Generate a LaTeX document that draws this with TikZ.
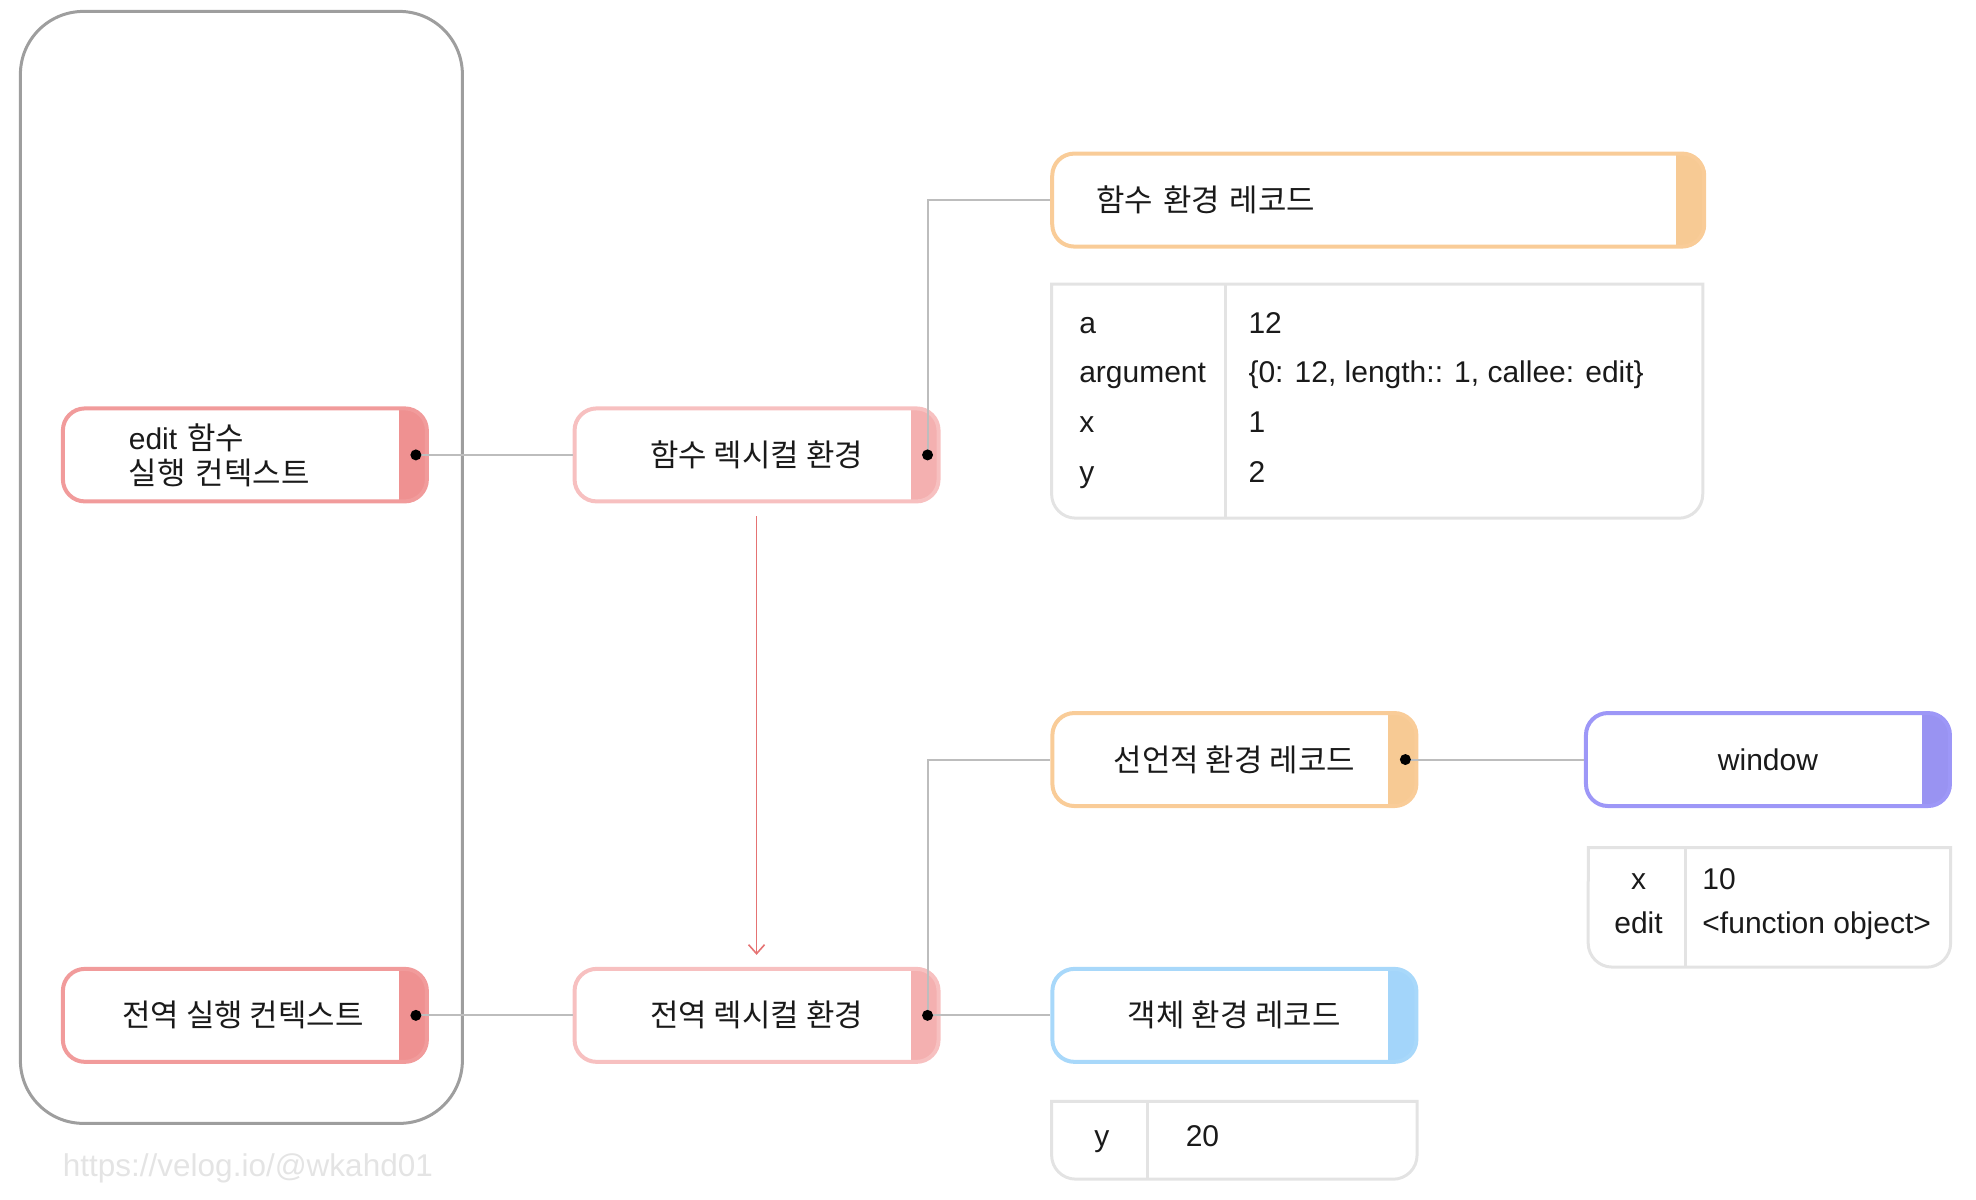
\documentclass[tikz,border=0pt]{standalone}
\usepackage{fontspec}
\setmainfont{Liberation Sans}
\newfontfamily\kr{Noto Sans CJK KR}[Scale=1.03]
\usetikzlibrary{arrows.meta}
\definecolor{txt}{HTML}{1A1A1A}
\definecolor{ctxb}{HTML}{F19B9B}
\definecolor{ctxf}{HTML}{EF9191}
\definecolor{lexb}{HTML}{F7C0C0}
\definecolor{lexf}{HTML}{F4B0B0}
\definecolor{orb}{HTML}{F9CC98}
\definecolor{orf}{HTML}{F7CA94}
\definecolor{pub}{HTML}{9D97F7}
\definecolor{puf}{HTML}{9993F2}
\definecolor{blb}{HTML}{A8D8FA}
\definecolor{blf}{HTML}{A3D5FA}
\definecolor{tblc}{HTML}{E3E3E3}
\definecolor{bigc}{HTML}{9E9E9E}
\definecolor{conc}{HTML}{BDBDBD}
\definecolor{arrc}{HTML}{E57373}
\definecolor{wmc}{HTML}{E4E4E4}
\begin{document}
\begin{tikzpicture}[x=0.9955pt,y=0.9955pt,
  font=\fontsize{30}{35}\selectfont,
  rec/.style 2 args={draw=#1, line width=4pt, rounded corners=22pt, fill=white,
    minimum width=364pt, minimum height=93pt, inner sep=0pt, text=txt,
    path picture={\fill[#2, sharp corners] ([xshift=-28pt]path picture bounding box.north east)
      rectangle (path picture bounding box.south east);}},
  tbl/.style={draw=tblc, line width=3pt},
  con/.style={draw=conc, line width=2pt},
  tx/.style={inner sep=0pt, text=txt, text height=21pt, text depth=5pt},
  dotc/.style={fill=black}
]
\useasboundingbox (0,-5.4) rectangle (1985,1200);

% outer frame
\node[draw=bigc, line width=3pt, rounded corners=63pt, minimum width=442pt,
      minimum height=1112pt, inner sep=0pt] (stack) at (242.5,630) {};

% boxes
\node[rec={ctxb}{ctxf}, align=left, text width=232pt, inner xsep=66pt] (ctx1) at (246,743)
  {edit {\kr 함수}\\{\kr 실행 컨텍스트}};
\node[rec={ctxb}{ctxf}, xshift=0pt] (ctx2) at (246,180) {\kr 전역 실행 컨텍스트\hspace*{4pt}};
\node[rec={lexb}{lexf}] (lex1) at (760,743) {\kr 함수 렉시컬 환경};
\node[rec={lexb}{lexf}] (lex2) at (760,180) {\kr 전역 렉시컬 환경};
\node[rec={orb}{orf}, minimum width=652pt, text width=564pt, inner xsep=44pt, align=left]
  (fer) at (1384.5,999) {\kr 함수 환경 레코드};
\node[rec={orb}{orf}] (der) at (1240,437) {\kr 선언적 환경 레코드};
\node[rec={pub}{puf}] (win) at (1776,437) {window};
\node[rec={blb}{blf}] (oer) at (1240,180) {\kr 객체 환경 레코드};

% dots
\coordinate (p1) at ([xshift=-13pt]ctx1.east);
\coordinate (p2) at ([xshift=-13pt]ctx2.east);
\coordinate (p3) at ([xshift=-13pt]lex1.east);
\coordinate (p4) at ([xshift=-13pt]lex2.east);
\coordinate (p5) at ([xshift=-13pt]der.east);

% connectors
\draw[con] (p1) -- (lex1.west);
\draw[con] (p2) -- (lex2.west);
\draw[con] (p3) |- (fer.west);
\draw[con] (p4) |- (der.west);
\draw[con] (p4) -- (oer.west);
\draw[con] (p5) -- (win.west);
\draw[draw=arrc, line width=1.6pt, -{Straight Barb[length=9pt,width=16pt,line width=1.6pt]},
      shorten <=13pt, shorten >=12pt] (lex1.south) -- (lex2.north);

\foreach \p in {p1,p2,p3,p4,p5} \fill[dotc] (\p) circle[radius=5.5pt];

% table 1
\draw[tbl] (1056.5,914.5) -- (1710.5,914.5) -- (1710.5,703.5)
  arc[start angle=0,end angle=-90,radius=24pt] -- (1080.5,679.5)
  arc[start angle=270,end angle=180,radius=24pt] -- cycle;
\draw[tbl] (1231,914.5) -- (1231,679.5);
\node[tx, anchor=west] (k1) at (1084,873) {a};
\node[tx, anchor=west] (k2) at (1084,824) {argument};
\node[tx, anchor=west] (k3) at (1084,774) {x};
\node[tx, anchor=west] (k4) at (1084,723) {y};
\node[tx, anchor=west] (v1) at (1254,873) {12};
\node[tx, anchor=west] (v2) at (1254,824) {\{0: 12, length:: 1, callee: edit\}};
\node[tx, anchor=west] (v3) at (1254,774) {1};
\node[tx, anchor=west] (v4) at (1254,723) {2};

% window table
\draw[tbl] (1595.5,348.5) -- (1959.5,348.5) -- (1959.5,252.5)
  arc[start angle=0,end angle=-90,radius=24pt] -- (1619.5,228.5)
  arc[start angle=270,end angle=180,radius=24pt] -- cycle;
\draw[tbl] (1693,348.5) -- (1693,228.5);
\node[tx] (wk1) at (1646,314) {x};
\node[tx] (wk2) at (1646,270) {edit};
\node[tx, anchor=west] (wv1) at (1710,314) {10};
\node[tx, anchor=west] (wv2) at (1710,270) {<function object>};

% object table
\draw[tbl] (1056.5,93.5) -- (1423.5,93.5) -- (1423.5,39.5)
  arc[start angle=0,end angle=-90,radius=24pt] -- (1080.5,15.5)
  arc[start angle=270,end angle=180,radius=24pt] -- cycle;
\draw[tbl] (1153,93.5) -- (1153,15.5);
\node[tx] (ok1) at (1107,56) {y};
\node[tx, anchor=west] (ov1) at (1191,56) {20};

% watermark
\node[inner sep=0pt, anchor=west, text=wmc, font=\fontsize{31.5}{36}\selectfont] (url) at (63,26) {https://velog.io/@wkahd01};
\end{tikzpicture}
\end{document}
